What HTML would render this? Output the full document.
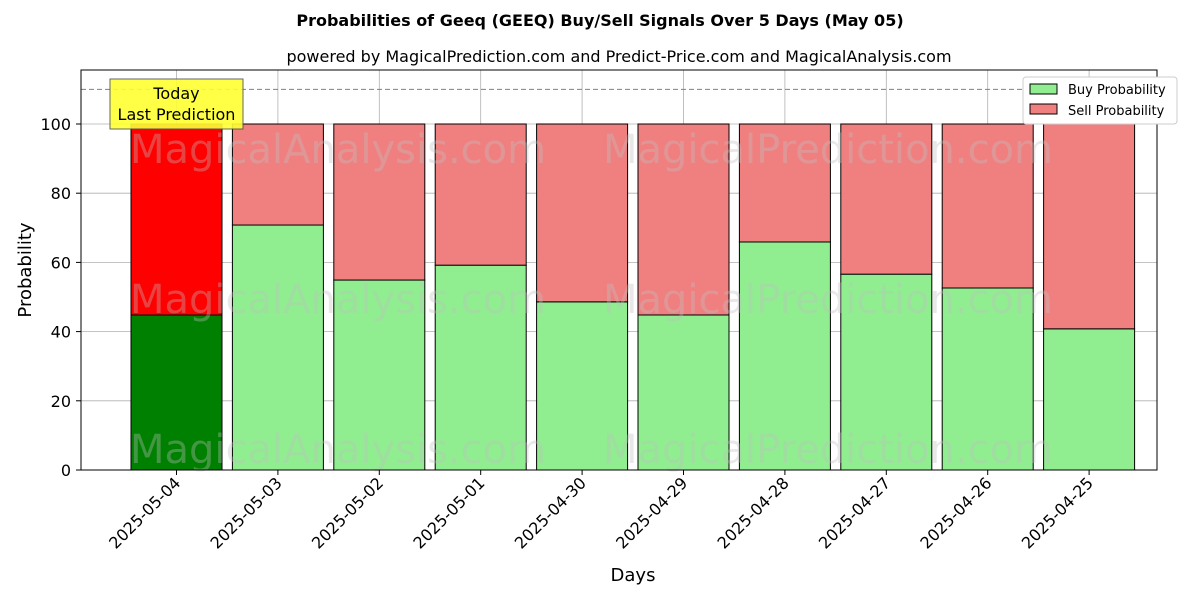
<!DOCTYPE html>
<html><head><meta charset="utf-8"><style>
body{margin:0;background:#fff;}
svg{display:block;font-family:"DejaVu Sans","Liberation Sans",sans-serif;}
</style></head><body>
<svg id="chart" width="1200" height="600" xmlns="http://www.w3.org/2000/svg">
<text x="600" y="26" text-anchor="middle" font-size="16" font-weight="bold">Probabilities of Geeq (GEEQ) Buy/Sell Signals Over 5 Days (May 05)</text>
<text x="619" y="62" text-anchor="middle" font-size="16">powered by MagicalPrediction.com and Predict-Price.com and MagicalAnalysis.com</text>
<g id="grid"></g>
<g id="bars"></g>
<g id="wm" font-size="40" fill="#c0c0c0" opacity="0.35">
<text x="130" y="163">MagicalAnalysis.com</text><text x="603" y="163">MagicalPrediction.com</text>
<text x="130" y="313">MagicalAnalysis.com</text><text x="603" y="313">MagicalPrediction.com</text>
<text x="130" y="463">MagicalAnalysis.com</text><text x="603" y="463">MagicalPrediction.com</text>
</g>
<line x1="81" x2="1157" y1="89.4" y2="89.4" stroke="#808080" stroke-dasharray="5,3"/>
<g id="axes"></g>
<rect x="81" y="70" width="1076" height="400" fill="none" stroke="#000"/>
<g>
<rect x="110" y="79" width="133" height="50" fill="#ffff33" stroke="#555" opacity="0.9"/>
<text x="176.5" y="99" text-anchor="middle" font-size="16">Today</text>
<text x="176.5" y="120" text-anchor="middle" font-size="16">Last Prediction</text>
</g>
<g>
<rect x="1023" y="77" width="154" height="47" fill="#fff" stroke="#ccc" rx="3"/>
<rect x="1030" y="84" width="27" height="10" fill="#90ee90" stroke="#000"/>
<text x="1068" y="94" font-size="13">Buy Probability</text>
<rect x="1030" y="104" width="27" height="10" fill="#f08080" stroke="#000"/>
<text x="1068" y="115" font-size="13">Sell Probability</text>
</g>
<text x="633" y="581" text-anchor="middle" font-size="18">Days</text>
<text transform="translate(31,270) rotate(-90)" text-anchor="middle" font-size="18">Probability</text>
</svg>
<script>
const categories=["2025-05-04","2025-05-03","2025-05-02","2025-05-01","2025-04-30","2025-04-29","2025-04-28","2025-04-27","2025-04-26","2025-04-25"];
const buyValues=[44.8,70.8,54.9,59.2,48.6,44.8,65.9,56.6,52.6,40.8];
const yTicks=[0,20,40,60,80,100];
const NS="http://www.w3.org/2000/svg";
function y(v){return 470-v*3.46;}
function x(i){return 176.5+i*101.4;}
function mk(t,a,p){const e=document.createElementNS(NS,t);for(const k in a)e.setAttribute(k,a[k]);p.appendChild(e);return e;}
const grid=document.getElementById('grid'),bars=document.getElementById('bars'),axes=document.getElementById('axes');
yTicks.forEach(t=>{
 const g=mk('line',{x1:81,x2:1157,y1:y(t),y2:y(t),stroke:'#b0b0b0','stroke-width':0.8},grid);
 
 
 mk('line',{x1:76,x2:81,y1:y(t),y2:y(t),stroke:'#000'},axes);
 const l=mk('text',{x:71,y:y(t)+6,'text-anchor':'end','font-size':16},axes);
 l.textContent=t;
 
 
});
categories.forEach((c,i)=>{
 const cx=x(i),w=91,b=buyValues[i];
 const g=mk('line',{x1:cx,x2:cx,y1:70,y2:470,stroke:'#b0b0b0','stroke-width':0.8},grid);
 
 
 const r1=mk('rect',{x:cx-w/2,y:y(b),width:w,height:y(0)-y(b),fill:i==0?'#008000':'#90ee90',stroke:'#000'},bars);
 
 
 const r2=mk('rect',{x:cx-w/2,y:y(100),width:w,height:y(b)-y(100),fill:i==0?'#ff0000':'#f08080',stroke:'#000'},bars);
 
 
 mk('line',{x1:cx,x2:cx,y1:470,y2:475,stroke:'#000'},axes);
 const l=mk('text',{x:cx+5,y:484,'text-anchor':'end','font-size':16,transform:`rotate(-45 ${cx+5} 484)`},axes);
 l.textContent=c;
 
 
});
</script>
</body></html>
